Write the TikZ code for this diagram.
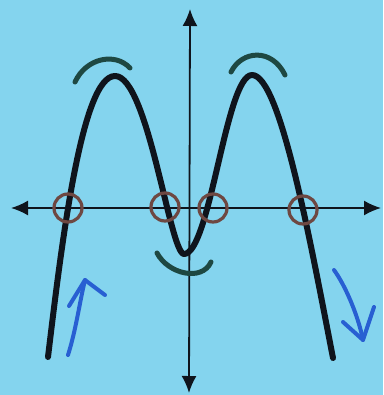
\documentclass[tikz,border=0pt]{standalone}
\usetikzlibrary{arrows.meta}
\definecolor{bg}{RGB}{132,212,238}
\definecolor{ink}{RGB}{15,20,28}
\definecolor{ring}{RGB}{110,72,66}
\definecolor{arcc}{RGB}{30,72,66}
\definecolor{pen}{RGB}{40,95,210}
\tikzset{
  axis/.style={draw=ink, line width=1.8pt},
  graph/.style={draw=ink, line width=6pt, line cap=round, line join=round},
  ringstyle/.style={draw=ring, line width=3.2pt},
  arcstyle/.style={draw=arcc, line width=5pt, line cap=round},
  penstyle/.style={draw=pen, line width=4pt, line cap=round, line join=round},
  tip/.tip={Latex[length=17pt,width=15pt]}
}
\begin{document}
\begin{tikzpicture}[x=1pt,y=-1pt]
\fill[bg] (0,0) rectangle (383,395);
\useasboundingbox (0,0) rectangle (383,395);
% axes
\coordinate (xl) at (11,208);
\coordinate (xr) at (381,208);
\coordinate (yt) at (190,9);
\coordinate (yb) at (189,393);
\draw[axis, tip-tip] (xl) -- (xr);
\draw[axis, tip-tip] (yt) -- (yb);
% curve
\draw[graph] (48,357) .. controls (62,240) and (82,76) .. (115,76)
  .. controls (148,76) and (170,254) .. (184,254)
  .. controls (210,254) and (226,75) .. (252,75)
  .. controls (280,75) and (310,240) .. (333,358);
% zero rings
\draw[ringstyle] (68,208) circle (14pt);
\draw[ringstyle] (165,207) circle (14pt);
\draw[ringstyle] (213,208) circle (14pt);
\draw[ringstyle] (303,210) circle (14pt);
% extremum arcs
\draw[arcstyle] (75,82) .. controls (86,58) and (115,52) .. (130,68);
\draw[arcstyle] (231,72) .. controls (242,50) and (272,48) .. (285,75);
\draw[arcstyle] (157,253) .. controls (168,274) and (202,282) .. (211,262);
% end-behaviour arrows
\draw[penstyle] (68,355) .. controls (76,330) and (80,300) .. (85,280);
\draw[penstyle] (69,306) -- (85,280) -- (105,295);
\draw[penstyle] (334,270) .. controls (345,285) and (358,315) .. (363,340);
\draw[penstyle] (343,322) -- (363,340) -- (374,307);
\end{tikzpicture}
\end{document}
